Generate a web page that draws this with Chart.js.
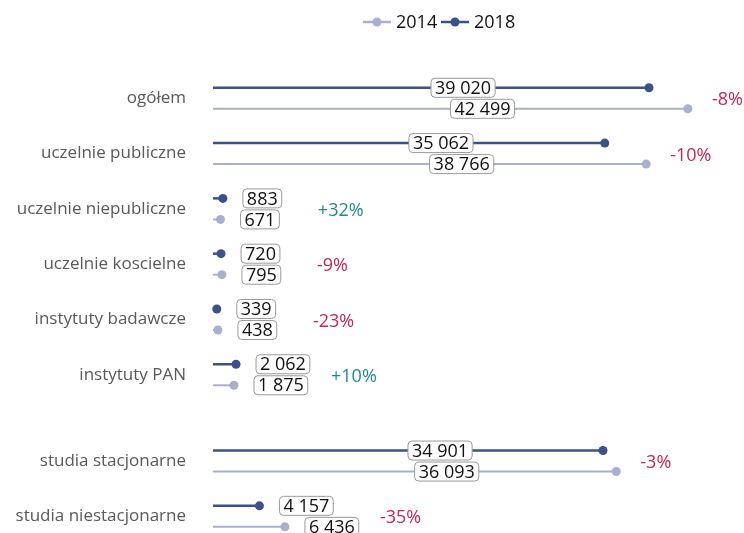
<!DOCTYPE html>
<html>
<head>
<meta charset="utf-8">
<script src="https://cdn.jsdelivr.net/npm/chart.js@4/dist/chart.umd.min.js"></script>
<style>
  html, body { margin: 0; padding: 0; background: #fff; overflow: hidden; }
  #wrap { width: 744px; height: 533px; }
</style>
</head>
<body>
<div id="wrap"><canvas id="chart" width="744" height="533"></canvas></div>
<script>
// Data
const categories = [
    'ogółem',
    'uczelnie publiczne',
    'uczelnie niepubliczne',
    'uczelnie koscielne',
    'instytuty badawcze',
    'instytuty PAN',
    'studia stacjonarne',
    'studia niestacjonarne'
];
const values2018 = [39020, 35062, 883, 720, 339, 2062, 34901, 4157];
const values2014 = [42499, 38766, 671, 795, 438, 1875, 36093, 6436];
const seriesNames = ['2014', '2018'];

// Look
const DARK = '#3d5189';
const LIGHT = '#a9afcd';
const NEG = '#c0255c';
const POS = '#22898a';
const FONT = '"Open Sans", sans-serif';
const LAST_IN_FIRST_GROUP = 5;  // extra space after "instytuty PAN"
const GROUP_GAP = 0.56;
const SERIES_SHIFT = 0.19;

function rowPos(i) {
    return i + (i > LAST_IN_FIRST_GROUP ? GROUP_GAP : 0);
}

function fmt(v) {
    return String(v).replace(/\B(?=(\d{3})+(?!\d))/g, ' ');
}

const datasets = [];
categories.forEach((c, i) => {
    const p = rowPos(i);
    datasets.push({
        label: '2018',
        data: [{ x: 0, y: p - SERIES_SHIFT }, { x: values2018[i], y: p - SERIES_SHIFT }],
        borderColor: DARK,
        backgroundColor: DARK,
        pointBackgroundColor: DARK,
        borderWidth: 2.5,
        pointRadius: [0, 4.5],
        pointBorderWidth: 0,
        showLine: true,
        clip: false
    });
    datasets.push({
        label: '2014',
        data: [{ x: 0, y: p + SERIES_SHIFT }, { x: values2014[i], y: p + SERIES_SHIFT }],
        borderColor: LIGHT,
        backgroundColor: LIGHT,
        pointBackgroundColor: LIGHT,
        borderWidth: 2,
        pointRadius: [0, 4.5],
        pointBorderWidth: 0,
        showLine: true,
        clip: false
    });
});

function roundRect(ctx, x, y, w, h, r) {
    ctx.beginPath();
    ctx.moveTo(x + r, y);
    ctx.lineTo(x + w - r, y);
    ctx.quadraticCurveTo(x + w, y, x + w, y + r);
    ctx.lineTo(x + w, y + h - r);
    ctx.quadraticCurveTo(x + w, y + h, x + w - r, y + h);
    ctx.lineTo(x + r, y + h);
    ctx.quadraticCurveTo(x, y + h, x, y + h - r);
    ctx.lineTo(x, y + r);
    ctx.quadraticCurveTo(x, y, x + r, y);
    ctx.closePath();
}

// value boxes, change labels and legend
const labelsPlugin = {
    id: 'labels',
    afterDatasetsDraw(chart) {
        const ctx = chart.ctx;
        const xs = chart.scales.x;
        const ys = chart.scales.y;
        const x0 = xs.getPixelForValue(0);
        ctx.save();
        ctx.font = '18px ' + FONT;
        ctx.textBaseline = 'middle';

        categories.forEach((c, i) => {
            const p = rowPos(i);
            const pairs = [[values2018[i], p - SERIES_SHIFT], [values2014[i], p + SERIES_SHIFT]];
            let big = false;
            pairs.forEach(([v, yv]) => {
                const xe = xs.getPixelForValue(v);
                const y = ys.getPixelForValue(yv);
                const txt = fmt(v);
                const w = ctx.measureText(txt).width + 8;
                const h = 19;
                let left;
                if (v > 20000) {
                    left = (x0 + xe) / 2;
                    big = true;
                } else {
                    left = xe + 20;
                }
                roundRect(ctx, left, y - h / 2, w, h, 4);
                ctx.fillStyle = '#fff';
                ctx.fill();
                ctx.strokeStyle = '#9a9a9a';
                ctx.lineWidth = 1;
                ctx.stroke();
                ctx.fillStyle = '#111';
                ctx.textAlign = 'left';
                ctx.fillText(txt, left + 4, y + 1);
            });

            const maxEnd = xs.getPixelForValue(Math.max(values2018[i], values2014[i]));
            const change = Math.round((values2018[i] - values2014[i]) / values2014[i] * 100);
            const ctxt = (change > 0 ? '+' : '') + change + '%';
            ctx.fillStyle = change > 0 ? POS : NEG;
            ctx.textAlign = 'left';
            ctx.fillText(ctxt, maxEnd + (big ? 24 : 95), ys.getPixelForValue(p) + 2);
        });

        // legend
        const ly = 22;
        const items = [
            { name: seriesNames[0], color: LIGHT, x: 363 },
            { name: seriesNames[1], color: DARK, x: 441 }
        ];
        items.forEach(it => {
            ctx.strokeStyle = it.color;
            ctx.lineWidth = 2.5;
            ctx.beginPath();
            ctx.moveTo(it.x, ly);
            ctx.lineTo(it.x + 28, ly);
            ctx.stroke();
            ctx.fillStyle = it.color;
            ctx.beginPath();
            ctx.arc(it.x + 14, ly, 4.5, 0, Math.PI * 2);
            ctx.fill();
            ctx.fillStyle = '#111';
            ctx.textAlign = 'left';
            ctx.fillText(it.name, it.x + 33, ly + 1);
        });
        ctx.restore();
    }
};

const chart = new Chart(document.getElementById('chart').getContext('2d'), {
    type: 'scatter',
    data: { datasets: datasets },
    options: {
        responsive: false,
        animation: false,
        layout: { padding: { top: 43, right: 17, bottom: 0, left: 0 } },
        plugins: {
            legend: { display: false },
            tooltip: { enabled: false }
        },
        scales: {
            x: {
                type: 'linear',
                min: 0,
                max: 46000,
                display: false
            },
            y: {
                type: 'linear',
                min: -1,
                max: 7.78,
                reverse: true,
                grid: { display: false, drawTicks: false },
                border: { display: false },
                afterFit(scale) {
                    scale.width = 213;
                    // tick padding is meant horizontally only
                    scale.paddingTop = 0;
                    scale.paddingBottom = 0;
                },
                afterBuildTicks(scale) {
                    scale.ticks = categories.map((c, i) => ({ value: rowPos(i) }));
                },
                ticks: {
                    padding: 27,
                    color: '#595959',
                    font: { family: FONT, size: 17 },
                    callback(value) {
                        const i = categories.findIndex((c, k) => Math.abs(rowPos(k) - value) < 0.01);
                        return i >= 0 ? categories[i] : '';
                    }
                }
            }
        }
    },
    plugins: [labelsPlugin]
});
</script>
</body>
</html>
